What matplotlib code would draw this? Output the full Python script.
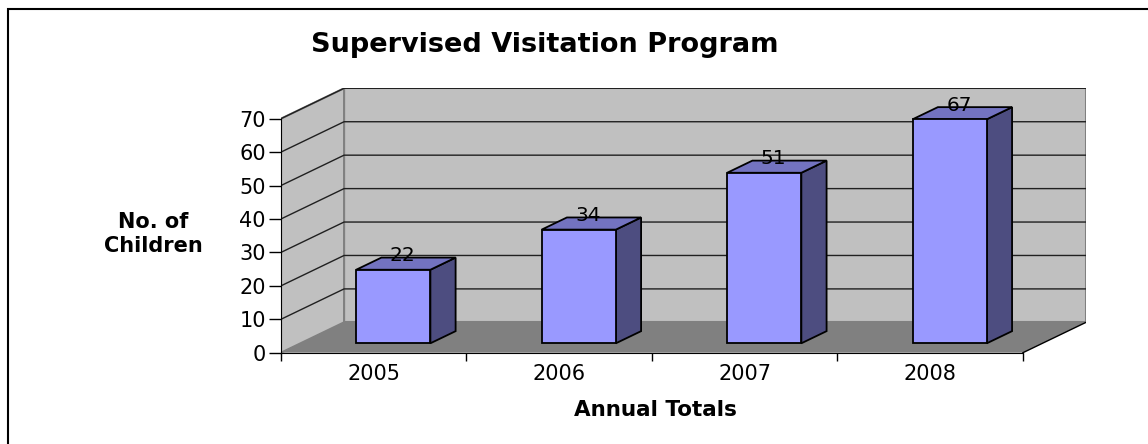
import matplotlib.pyplot as plt
from matplotlib.patches import Polygon, Rectangle

# === Dati ===
years = ["2005", "2006", "2007", "2008"]
children = [22, 34, 51, 67]
y_ticks = [0, 10, 20, 30, 40, 50, 60, 70]

title = "Supervised Visitation Program"
y_label = "No. of\nChildren"
x_label = "Annual Totals"

# === Geometria "3D" obliqua ===
YMAX = 70
KX = 0.34      # spostamento in profondita' (unita' categoria)
KY = 9.08      # spostamento in profondita' (unita' valore)
BAR_W = 0.40
D0, D1 = 0.31, 0.71

WALL = "#C0C0C0"
FLOOR = "#808080"
EDGE = "#808080"
FRONT = "#9999FF"
TOP = "#7373C0"
SIDE = "#4D4D80"


def proj(x, y, d):
    return (x + d * KX, y + d * KY)


W, H = 1148, 444
fig = plt.figure(figsize=(W / 100, H / 100), dpi=100)
plt.rcParams["font.family"] = ["DejaVu Sans"]

ax = fig.add_axes([281 / W, 1 - 352.7 / H, (1086 - 281) / W, (352.7 - 88.3) / H])
n = len(years)
ax.set_xlim(0, n + KX)
ax.set_ylim(0, YMAX + KY)

# Pareti e pavimento
floor = [proj(0, 0, 0), proj(n, 0, 0), proj(n, 0, 1), proj(0, 0, 1)]
back = [proj(0, 0, 1), proj(n, 0, 1), proj(n, YMAX, 1), proj(0, YMAX, 1)]
side = [proj(0, 0, 0), proj(0, 0, 1), proj(0, YMAX, 1), proj(0, YMAX, 0)]
ax.add_patch(Polygon(back, closed=True, facecolor=WALL, edgecolor=EDGE, lw=1.5, zorder=1))
ax.add_patch(Polygon(side, closed=True, facecolor=WALL, edgecolor=EDGE, lw=1.5, zorder=1))
ax.add_patch(Polygon(floor, closed=True, facecolor=FLOOR, edgecolor="none", zorder=1.1))

# Griglia su parete di fondo e parete laterale
for v in y_ticks[1:]:
    xs, ys = zip(proj(0, v, 0), proj(0, v, 1), proj(n, v, 1))
    ax.plot(xs, ys, color="#202020", lw=1, zorder=1.2)

# bordo destro del pavimento
xs, ys = zip(proj(n, 0, 0), proj(n, 0, 1))
ax.plot(xs, ys, color="black", lw=1, zorder=1.3)

# Barre
for i, v in enumerate(children):
    x0 = i + (1 - BAR_W) / 2
    x1 = x0 + BAR_W
    front = [proj(x0, 0, D0), proj(x1, 0, D0), proj(x1, v, D0), proj(x0, v, D0)]
    top = [proj(x0, v, D0), proj(x1, v, D0), proj(x1, v, D1), proj(x0, v, D1)]
    right = [proj(x1, 0, D0), proj(x1, 0, D1), proj(x1, v, D1), proj(x1, v, D0)]
    for pts, col in ((right, SIDE), (top, TOP), (front, FRONT)):
        ax.add_patch(Polygon(pts, closed=True, facecolor=col, edgecolor="black", lw=1.3, zorder=2))
    tx, ty = proj((x0 + x1) / 2, v, (D0 + D1) / 2 - 0.05)
    ax.text(tx, proj(0, v, D1)[1] + 0.5, str(v), ha="center", va="center", fontsize=14.5, zorder=3)

# Assi
for s in ("top", "right"):
    ax.spines[s].set_visible(False)
ax.spines["left"].set_bounds(0, YMAX)
ax.spines["bottom"].set_bounds(0, n)
ax.patch.set_visible(False)

ax.set_yticks(y_ticks)
ax.set_yticklabels([str(t) for t in y_ticks])
ax.tick_params(axis="y", direction="out", length=9, width=1, pad=2, labelsize=15)

ax.set_xticks(range(n + 1))
ax.set_xticklabels([])
ax.set_xticks([i + 0.5 for i in range(n)], minor=True)
ax.set_xticklabels(years, minor=True)
ax.tick_params(axis="x", which="major", direction="out", length=6, width=1)
ax.tick_params(axis="x", which="minor", length=0, pad=8, labelsize=15)

# Testi
fig.text(545 / W, 1 - 52 / H, title, ha="center", va="baseline", fontsize=19.5, fontweight="bold")
fig.text(153 / W, 1 - 234 / H, y_label, ha="center", va="center", fontsize=15,
         fontweight="bold", linespacing=1.2)
fig.text(655 / W, 1 - 416 / H, x_label, ha="center", va="baseline", fontsize=15.5, fontweight="bold")

# Cornice esterna
fig.patches.append(Rectangle((7.5 / W, -0.1), 1.2, (H - 9.5) / H + 0.1, transform=fig.transFigure,
                             fill=False, edgecolor="black", lw=1.5))

fig.savefig("out.png", dpi=100)
